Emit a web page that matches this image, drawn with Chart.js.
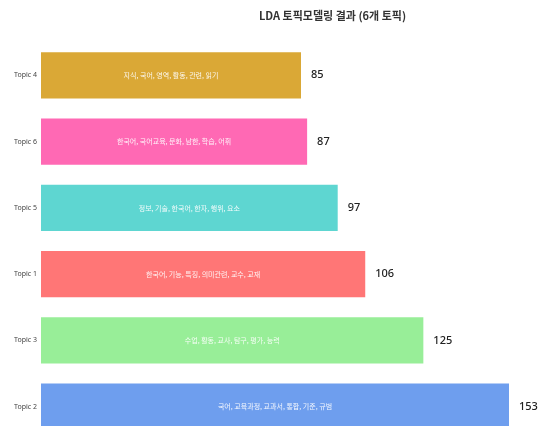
<!DOCTYPE html>
<html>
<head>
<meta charset="utf-8">
<script src="https://cdn.jsdelivr.net/npm/chart.js@4/dist/chart.umd.min.js"></script>
<style>
html,body{margin:0;padding:0;background:#fff;overflow:hidden;}
#wrap{width:665px;height:448px;}
</style>
</head>
<body>
<div id="wrap"><canvas id="c" width="665" height="448"></canvas></div>
<script>
const topics = ['Topic 4','Topic 6','Topic 5','Topic 1','Topic 3','Topic 2'];
const docCounts = [85, 87, 97, 106, 125, 153];
const keywords = [
  '지식, 국어, 영역, 활동, 관련, 읽기',
  '한국어, 국어교육, 문화, 남한, 학습, 어휘',
  '정보, 기술, 한국어, 한자, 행위, 요소',
  '한국어, 기능, 특징, 의미관련, 교수, 교재',
  '수업, 활동, 교사, 탐구, 평가, 능력',
  '국어, 교육과정, 교과서, 통합, 기준, 규범'
];
const barColors = ['#DAA836','#FF69B4','#5ED6D1','#FF7676','#98EE98','#6E9EEE'];
const titleText = 'LDA 토픽모델링 결과 (6개 토픽)';

const labelPlugin = {
  id: 'barLabels',
  afterDatasetsDraw(chart) {
    const ctx = chart.ctx;
    const meta = chart.getDatasetMeta(0);
    ctx.save();
    meta.data.forEach((bar, i) => {
      const end = bar.x, base = bar.base, y = bar.y;
      ctx.textBaseline = 'middle';
      ctx.fillStyle = 'rgba(255,255,255,0.92)';
      ctx.textAlign = 'center';
      ctx.font = '7px "Noto Sans CJK KR", "Noto Sans", sans-serif';
      ctx.fillText(keywords[i], (base + end) / 2, y);
      ctx.fillStyle = '#222222';
      ctx.textAlign = 'left';
      ctx.font = '500 11px "Noto Sans", "DejaVu Sans", sans-serif';
      ctx.fillText(String(docCounts[i]), end + 10, y);
    });
    ctx.restore();
  }
};

new Chart(document.getElementById('c'), {
  type: 'bar',
  data: {
    labels: topics,
    datasets: [{
      data: docCounts,
      backgroundColor: barColors,
      borderWidth: 0,
      barPercentage: 0.70,
      categoryPercentage: 1.0
    }]
  },
  options: {
    indexAxis: 'y',
    responsive: false,
    animation: false,
    devicePixelRatio: 1,
    layout: { padding: { left: 0, right: 0, top: 0, bottom: 0 } },
    plugins: {
      legend: { display: false },
      tooltip: { enabled: false },
      title: {
        display: true,
        text: titleText,
        color: '#333333',
        font: { family: '"Noto Sans CJK KR", "Noto Sans", sans-serif', size: 11, weight: 'bold', lineHeight: 1.2 },
        padding: { top: 9, bottom: 20 }
      }
    },
    scales: {
      x: {
        display: false,
        min: 0,
        max: 204
      },
      y: {
        grid: { display: false, drawTicks: false },
        border: { display: false },
        ticks: {
          color: '#444444',
          font: { family: '"Noto Sans", "DejaVu Sans", sans-serif', size: 7 },
          padding: 4
        },
        afterFit(scale) { scale.width = 41; }
      }
    }
  },
  plugins: [labelPlugin]
});
</script>
</body>
</html>
